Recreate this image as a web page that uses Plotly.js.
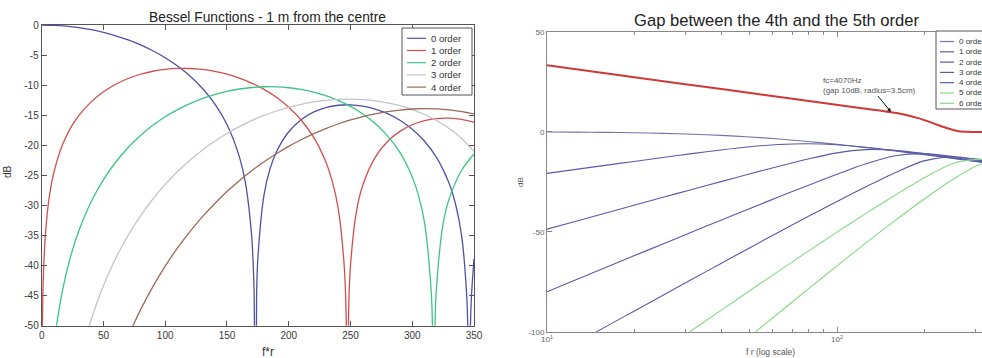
<!DOCTYPE html>
<html><head><meta charset="utf-8">
<script src="https://cdn.plot.ly/plotly-3.0.1.min.js"></script>
<style>html,body{margin:0;padding:0;overflow:hidden;background:#fff;width:982px;height:358px}#chart{width:1010px;height:358px}</style>
</head><body><div id="chart"></div><script>
// ---------- Left chart: Bessel functions (dB vs f*r) ----------
const besselNames = ['0 order', '1 order', '2 order', '3 order', '4 order'];
const besselColors = ['#5050a6', '#d24e4e', '#3cc486', '#c4c4cc', '#9a6a58'];
const j0X = [0,10,20,30,40,50,60,70,80,90,100,110,120,130,140,150,160,165,170,171,172,173,174,175,180,185,190,200,210,220,230,240,250,260,270,280,290,300,310,320,330,335,340,344,345,346,347,348,350];
const j0Db = [0,-0.05,-0.19,-0.43,-0.78,-1.23,-1.79,-2.48,-3.30,-4.28,-5.45,-6.83,-8.48,-10.51,-13.08,-16.54,-21.88,-26.31,-35.06,-38.62,-44.67,-90,-44.86,-38.86,-28.23,-23.83,-21.11,-17.75,-15.75,-14.49,-13.73,-13.34,-13.27,-13.48,-13.97,-14.74,-15.84,-17.32,-19.33,-22.13,-26.41,-29.72,-35.07,-44.65,-50.62,-90,-50.94,-44.88,-38.87];
const j1X = [0.5,1,1.5,2,3,5,7,10,15,20,25,30,40,50,60,70,80,90,100,110,120,130,140,150,160,170,180,190,200,210,220,230,235,240,244.9,246.45,247.45,248.45,250,255,260,270,280,290,300,310,320,330,340,350];
const j1Db = [-50.38,-44.36,-40.84,-38.34,-34.82,-30.39,-27.47,-24.39,-20.90,-18.46,-16.58,-15.08,-12.78,-11.11,-9.85,-8.90,-8.19,-7.69,-7.38,-7.22,-7.23,-7.39,-7.70,-8.17,-8.82,-9.65,-10.70,-12.02,-13.67,-15.79,-18.61,-22.74,-25.80,-30.40,-40.0,-48.1,-90,-48.1,-40.03,-30.80,-26.60,-22.00,-19.37,-17.69,-16.59,-15.91,-15.56,-15.50,-15.71,-16.19];
const j2X = [12,13,15,17,20,25,30,40,50,60,70,80,90,100,110,120,130,140,150,160,170,180,190,200,210,220,230,240,250,260,270,280,290,300,305,310,315.4,316.4,317.4,318.4,319.4,325,330,340,350];
const j2Db = [-50.02,-48.64,-46.16,-44.00,-41.20,-37.37,-34.26,-29.40,-25.71,-22.78,-20.37,-18.37,-16.68,-15.26,-14.06,-13.06,-12.23,-11.56,-11.03,-10.64,-10.39,-10.27,-10.29,-10.43,-10.72,-11.16,-11.76,-12.54,-13.54,-14.79,-16.38,-18.43,-21.19,-25.26,-28.29,-32.89,-44.4,-50.4,-90,-50.4,-44.4,-33.04,-28.83,-24.15,-21.45];
const j3X = [35,38,40,45,50,60,70,80,90,100,110,120,130,140,150,160,170,180,190,200,210,220,230,240,250,260,270,280,290,300,310,320,330,340,350];
const j3Db = [-52.43,-50.32,-49.01,-46.01,-43.34,-38.77,-34.96,-31.72,-28.93,-26.50,-24.36,-22.48,-20.81,-19.34,-18.04,-16.90,-15.90,-15.04,-14.30,-13.68,-13.19,-12.80,-12.53,-12.38,-12.33,-12.41,-12.61,-12.94,-13.42,-14.06,-14.88,-15.92,-17.22,-18.89,-21.05];
const j4X = [70,75,80,90,100,110,120,130,140,150,160,170,180,190,200,210,220,230,240,250,260,270,280,290,300,310,320,330,340,350];
const j4Db = [-51.81,-49.51,-47.37,-43.51,-40.10,-37.07,-34.36,-31.90,-29.71,-27.70,-25.89,-24.24,-22.75,-21.40,-20.18,-19.08,-18.10,-17.22,-16.46,-15.79,-15.23,-14.77,-14.40,-14.14,-13.97,-13.91,-13.96,-14.11,-14.39,-14.79];
const leftXTicks = [0,50,100,150,200,250,300,350];
const leftYTicks = [0,-5,-10,-15,-20,-25,-30,-35,-40,-45,-50];
const leftYTickText = ['0','-5','-10','-15','-20','-25','-30','-35','-40','-45','-50'];

// ---------- Right chart: modal strength vs f r (log) ----------
const gapNames = ['0 order','1 order','2 order','3 order','4 order','5 order','6 order'];
const gapColors = ['#7474a8','#5a5aa8','#5a5aa8','#5a5aa8','#5a5aa8','#86d886','#86d886'];
const frX = [10,12.59,15.85,19.95,25.12,31.62,39.81,50.12,63.10,79.43,100,125.9,158.5,199.5,251.2,316.2,398.1];
const mode0 = [-0.14,-0.22,-0.35,-0.54,-0.82,-1.24,-1.83,-2.62,-3.64,-4.89,-6.33,-7.94,-9.68,-11.50,-13.39,-15.31,-17.26];
const mode1 = [-20.84,-18.84,-16.85,-14.86,-12.89,-10.96,-9.13,-7.53,-6.40,-6.02,-6.54,-7.78,-9.43,-11.28,-13.22,-15.20,-17.19];
const mode2 = [-48.74,-44.75,-40.76,-36.78,-32.82,-28.87,-24.95,-21.06,-17.26,-13.64,-10.60,-8.98,-9.32,-10.89,-12.88,-14.96,-17.03];
const mode3 = [-80.03,-74.04,-68.05,-62.07,-56.11,-50.16,-44.24,-38.37,-32.56,-26.85,-21.29,-16.06,-12.03,-10.97,-12.42,-14.58,-16.78];
const mode4 = [-113.69,-105.70,-97.71,-89.73,-81.75,-73.80,-65.87,-57.98,-50.16,-42.44,-34.87,-27.51,-20.49,-14.58,-12.49,-14.07,-16.41];
const mode5X = [19.95,25.12,31.62,39.81,50.12,63.10,79.43,100,125.9,158.5,199.5,251.2,316.2,398.1];
const mode5 = [-119.21,-109.23,-99.27,-89.33,-79.43,-69.58,-59.83,-50.22,-40.82,-31.75,-23.13,-15.90,-13.86,-15.91];
const mode6X = [31.62,39.81,50.12,63.10,79.43,100,125.9,158.5,199.5,251.2,316.2,398.1];
const mode6 = [-126.24,-114.30,-102.38,-90.52,-78.74,-67.08,-55.62,-44.48,-33.79,-23.78,-16.01,-15.42];
const gapX = [10,20,40,80,120,152,170,190.5,214,240,263,288,330,400];
const gapDb = [33.2,27.2,21.3,15.3,11.8,9.8,8.6,6.8,4.3,1.7,0.2,-0.1,-0.15,-0.15];
const rightXTicks = [10,100];
const rightXTickText = ['10<sup>1</sup>','10<sup>2</sup>'];
const rightXMinor = [20,30,40,50,60,70,80,90,200,300];
const rightYTicks = [-100,-50,0,50];
const rightYTickText = ['-100','-50','0','50'];

// ---------- geometry helpers ----------
const W = 1010, H = 358;
const px = v => v / W;
const py = v => 1 - v / H;
const FONT = 'Liberation Sans, Arial, Helvetica, sans-serif';

const traces = [];
const leftX = [j0X, j1X, j2X, j3X, j4X];
const leftY = [j0Db, j1Db, j2Db, j3Db, j4Db];
for (let i = 0; i < 5; i++) {
  traces.push({x: leftX[i], y: leftY[i], name: besselNames[i], type: 'scatter', mode: 'lines',
    line: {color: besselColors[i], width: 1.3, shape: 'spline', smoothing: 0.8},
    xaxis: 'x', yaxis: 'y', showlegend: false, hoverinfo: 'skip'});
}
const rightX = [frX, frX, frX, frX, frX, mode5X, mode6X];
const rightY = [mode0, mode1, mode2, mode3, mode4, mode5, mode6];
for (let i = 0; i < 7; i++) {
  traces.push({x: rightX[i], y: rightY[i], name: gapNames[i], type: 'scatter', mode: 'lines',
    line: {color: gapColors[i], width: 1.1, shape: 'spline', smoothing: 0.8},
    xaxis: 'x2', yaxis: 'y2', showlegend: false, hoverinfo: 'skip'});
}
traces.push({x: gapX, y: gapDb, name: 'gap 4th-5th', type: 'scatter', mode: 'lines',
  line: {color: '#d03838', width: 2, shape: 'spline', smoothing: 0.8},
  xaxis: 'x2', yaxis: 'y2', showlegend: false, hoverinfo: 'skip'});

const axBase = {showgrid: false, zeroline: false, showline: true, mirror: 'ticks', ticks: 'inside', fixedrange: true};
const layout = {
  width: W, height: H, margin: {l: 0, r: 0, t: 0, b: 0},
  paper_bgcolor: '#fff', plot_bgcolor: '#fff', showlegend: false,
  font: {family: FONT, color: '#333'},
  xaxis: Object.assign({}, axBase, {domain: [px(41.7), px(474)], range: [0, 350], anchor: 'y',
    tickmode: 'array', tickvals: leftXTicks, ticktext: leftXTicks.map(String),
    ticklen: 5, tickcolor: '#555', linecolor: '#555', tickfont: {size: 10, color: '#3a3a3a'}}),
  yaxis: Object.assign({}, axBase, {domain: [py(325.7), py(25)], range: [-50, 0], anchor: 'x',
    tickmode: 'array', tickvals: leftYTicks, ticktext: leftYTickText,
    ticklen: 5, tickcolor: '#555', linecolor: '#555', tickfont: {size: 10, color: '#3a3a3a'}}),
  xaxis2: Object.assign({}, axBase, {domain: [px(547), px(1003)], type: 'log', range: [1, 2.5724], anchor: 'y2',
    tickmode: 'array', tickvals: rightXTicks, ticktext: rightXTickText,
    ticklen: 5, tickcolor: '#888', linecolor: '#888', tickfont: {size: 8, color: '#666'},
    minor: {tickmode: 'array', tickvals: rightXMinor, ticks: 'inside', ticklen: 3, tickcolor: '#888'}}),
  yaxis2: Object.assign({}, axBase, {domain: [py(331.7), py(31.7)], range: [-100, 50], anchor: 'x2',
    tickmode: 'array', tickvals: rightYTicks, ticktext: rightYTickText,
    ticklen: 5, tickcolor: '#888', linecolor: '#888', tickfont: {size: 8, color: '#666'}}),
  shapes: [], annotations: []
};

function ann(text, x, y, size, opts) {
  return Object.assign({text: text, xref: 'paper', yref: 'paper', x: px(x), y: py(y), showarrow: false,
    xanchor: 'center', yanchor: 'middle', font: {size: size, color: '#222', family: FONT}}, opts || {});
}
layout.annotations.push(ann('Bessel Functions - 1 m from the centre', 267.5, 17.5, 13.8));
layout.annotations.push(ann('Gap between the 4th and the 5th order', 776.5, 20, 16.6));
layout.annotations.push(ann('dB', 7, 172, 10, {textangle: -90, font: {size: 10, color: '#333', family: FONT}}));
layout.annotations.push(ann('f*r', 268, 352, 12, {font: {size: 12, color: '#333', family: FONT}}));
layout.annotations.push(ann('dB', 520, 182, 8, {textangle: -90, font: {size: 8, color: '#555', family: FONT}}));
layout.annotations.push(ann('f r (log scale)', 770, 352, 8.5, {font: {size: 8.5, color: '#555', family: FONT}}));
// fc annotation with arrow pointing at the red curve
layout.annotations.push({text: 'fc=4070Hz<br>(gap 10dB, radius=3.5cm)', xref: 'paper', yref: 'paper',
  x: px(891), y: py(112), showarrow: true, ax: -22, ay: -27, align: 'left',
  arrowhead: 2, arrowsize: 0.8, arrowwidth: 1, arrowcolor: '#111',
  font: {size: 8, color: '#555', family: FONT}});

// ---------- legends (drawn as boxes, sample lines and text) ----------
function legend(names, colors, box, rowY, lineX, textX, fs) {
  layout.shapes.push({type: 'rect', xref: 'paper', yref: 'paper', x0: px(box[0]), x1: px(box[1]),
    y0: py(box[3]), y1: py(box[2]), line: {color: '#555', width: 1}, fillcolor: '#fff', layer: 'above'});
  names.forEach((n, i) => {
    const y = rowY[0] + i * rowY[1];
    layout.shapes.push({type: 'line', xref: 'paper', yref: 'paper', x0: px(lineX[0]), x1: px(lineX[1]),
      y0: py(y), y1: py(y), line: {color: colors[i], width: 1.2}, layer: 'above'});
    layout.annotations.push(ann(n, textX, y, fs, {xanchor: 'left', font: {size: fs, color: '#333', family: FONT}}));
  });
}
legend(besselNames, besselColors, [402, 472, 28, 95], [38.3, 12.2], [407, 426], 429, 9.5);
legend(gapNames, gapColors, [936, 1000, 31, 109], [41.5, 10.3], [940, 954], 957, 8);

Plotly.newPlot('chart', traces, layout, {staticPlot: true, displayModeBar: false});
</script></body></html>
